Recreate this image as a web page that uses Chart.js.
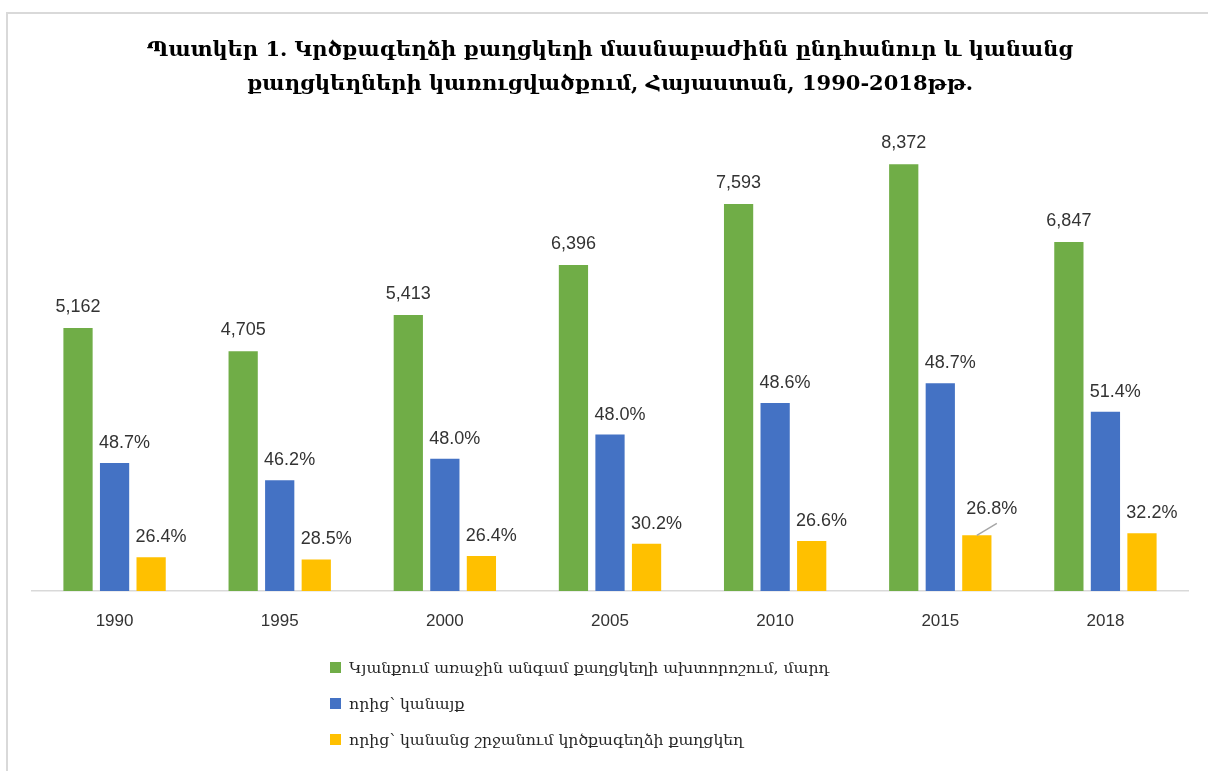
<!DOCTYPE html>
<html>
<head>
<meta charset="utf-8">
<script src="https://cdn.jsdelivr.net/npm/chart.js@4.4.1/dist/chart.umd.min.js"></script>
<style>
  html, body { margin: 0; padding: 0; background: #fff; }
  #wrap { position: relative; width: 1208px; height: 771px; overflow: hidden; }
  #frame { position: absolute; left: 6px; top: 12px; right: -4px; bottom: -4px;
           border-left: 2px solid #d9d9d9; border-top: 2px solid #d9d9d9; }
  canvas { position: absolute; left: 0; top: 0; }
  #legend { position: absolute; left: 330px; top: 649px; font-family: "DejaVu Serif", serif;
            font-size: 15.7px; color: #262626; }
  #legend div { height: 36px; display: flex; align-items: center; }
  #legend span.box { display: inline-block; width: 11px; height: 11px; margin-right: 8px; }
</style>
</head>
<body>
<div id="wrap">
  <div id="frame"></div>
  <canvas id="grafica" width="1208" height="771"></canvas>
  <div id="legend"></div>
</div>
<script>
// Տվյալներ (կարդացված նկարից)
const years = ['1990', '1995', '2000', '2005', '2010', '2015', '2018'];
const newCases = [5162, 4705, 5413, 6396, 7593, 8372, 6847];   // կանաչ
const womenCases = [2514, 2174, 2598, 3070, 3690, 4077, 3519]; // կապույտ
const breastCases = [664, 620, 686, 927, 982, 1093, 1133];     // դեղին
const womenPct = [48.7, 46.2, 48.0, 48.0, 48.6, 48.7, 51.4];
const breastPct = [26.4, 28.5, 26.4, 30.2, 26.6, 26.8, 32.2];

const seriesNames = [
  'Կյանքում առաջին անգամ քաղցկեղի ախտորոշում, մարդ',
  'որից՝ կանայք',
  'որից՝ կանանց շրջանում կրծքագեղձի քաղցկեղ'
];
const titleLines = [
  'Պատկեր 1. Կրծքագեղձի քաղցկեղի մասնաբաժինն ընդհանուր և կանանց',
  'քաղցկեղների կառուցվածքում, Հայաստան, 1990-2018թթ.'
];

// արժեքների պիտակներ սյուների վրա
const barLabels = {
  id: 'barLabels',
  afterDatasetsDraw(chart) {
    const ctx = chart.ctx;
    ctx.save();
    ctx.font = '18px "Liberation Sans", Arial, sans-serif';
    ctx.fillStyle = '#333';
    ctx.textBaseline = 'alphabetic';
    chart.data.datasets.forEach((ds, i) => {
      const meta = chart.getDatasetMeta(i);
      meta.data.forEach((bar, j) => {
        if (i === 0) {
          ctx.textAlign = 'center';
          ctx.fillText(newCases[j].toLocaleString('en-US'), bar.x, bar.y - 16);
          return;
        }
        const pct = i === 1 ? womenPct[j] : breastPct[j];
        const txt = pct.toFixed(1) + '%';
        const left = bar.x - bar.width / 2;
        ctx.textAlign = 'left';
        if (i === 2 && j === 5) {
          // կանչող գիծ
          ctx.strokeStyle = '#a6a6a6';
          ctx.lineWidth = 1.5;
          ctx.beginPath();
          ctx.moveTo(bar.x, bar.y);
          ctx.lineTo(bar.x + 20, bar.y - 12);
          ctx.stroke();
          ctx.fillText(txt, left + 4, bar.y - 21);
        } else {
          ctx.fillText(txt, left - 1, bar.y - 15);
        }
      });
    });
    ctx.restore();
  }
};

const colors = ['#70AD47', '#4472C4', '#FFC000'];
const config = {
  type: 'bar',
  data: {
    labels: years,
    datasets: [newCases, womenCases, breastCases].map((d, i) => ({
      label: seriesNames[i],
      data: d,
      backgroundColor: colors[i],
      borderWidth: 0,
      categoryPercentage: 0.664,
      barPercentage: 0.8
    }))
  },
  options: {
    responsive: false,
    devicePixelRatio: 1,
    animation: false,
    layout: { padding: { top: 22, left: 32, right: 20, bottom: 127.5 } },
    plugins: {
      legend: { display: false },
      tooltip: { enabled: false },
      title: {
        display: true,
        text: titleLines,
        color: '#000',
        font: { family: '"DejaVu Serif", serif', size: 21, weight: 'bold', lineHeight: 1.6 },
        padding: { top: 12, bottom: 31 }
      }
    },
    scales: {
      x: {
        grid: { display: false },
        border: { color: '#d9d9d9', width: 1.5 },
        ticks: { color: '#333', padding: 12, font: { family: '"Liberation Sans", Arial, sans-serif', size: 17 } }
      },
      y: { display: false, min: 0, max: 9000 }
    }
  },
  plugins: [barLabels]
};

const grafica = new Chart(document.getElementById('grafica'), config);

// լեգենդ
const legend = document.getElementById('legend');
grafica.data.datasets.forEach(ds => {
  const row = document.createElement('div');
  const box = document.createElement('span');
  box.className = 'box';
  box.style.background = ds.backgroundColor;
  row.appendChild(box);
  row.appendChild(document.createTextNode(ds.label));
  legend.appendChild(row);
});
</script>
</body>
</html>
